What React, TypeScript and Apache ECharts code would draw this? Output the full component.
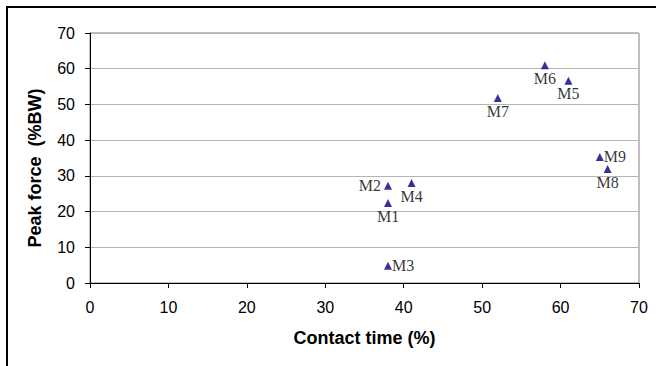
import React, { useEffect, useRef } from "react";
import * as echarts from "echarts";

const pointNames = ["M1", "M2", "M3", "M4", "M5", "M6", "M7", "M8", "M9"];
const contactTime = [38, 38, 38, 41, 61, 58, 52, 66, 65];
const peakForce = [22.4, 27.2, 4.8, 28.0, 56.6, 61.0, 51.8, 31.9, 35.3];
const xTicks = [0, 10, 20, 30, 40, 50, 60, 70];
const yTicks = [0, 10, 20, 30, 40, 50, 60, 70];

const labelPlacement: Record<string, { position: string; distance: number }> = {
  M1: { position: "bottom", distance: 1 },
  M2: { position: "left", distance: 3 },
  M3: { position: "right", distance: 0 },
  M4: { position: "bottom", distance: 1 },
  M5: { position: "bottom", distance: 1 },
  M6: { position: "bottom", distance: 1 },
  M7: { position: "bottom", distance: 1 },
  M8: { position: "bottom", distance: 1 },
  M9: { position: "right", distance: 0 },
};

export default function App() {
  const ref = useRef<HTMLDivElement>(null);

  useEffect(() => {
    if (!ref.current) return;
    const chart = echarts.init(ref.current, undefined, { renderer: "svg" });
    const data = pointNames.map((n, i) => ({
      name: n,
      value: [contactTime[i], peakForce[i]],
      label: {
        show: true,
        formatter: n,
        position: labelPlacement[n].position,
        distance: labelPlacement[n].distance,
      },
    }));
    chart.setOption({
      animation: false,
      backgroundColor: "#ffffff",
      grid: {
        left: 90,
        right: 17,
        top: 33,
        bottom: 83,
        show: true,
        borderColor: "#808080",
        borderWidth: 1,
        backgroundColor: "transparent",
      },
      graphic: [
        {
          type: "polyline",
          shape: { points: [[7, 370], [7, 7], [660, 7]] },
          style: { stroke: "#000000", lineWidth: 2, fill: null },
          silent: true,
        },
      ],
      xAxis: {
        type: "value",
        min: xTicks[0],
        max: xTicks[xTicks.length - 1],
        interval: 10,
        name: "Contact time (%)",
        nameLocation: "middle",
        nameGap: 46,
        nameTextStyle: {
          fontFamily: "Liberation Sans, Arial, sans-serif",
          fontWeight: "bold",
          fontSize: 18,
          color: "#000000",
        },
        axisLine: { show: true, onZero: false, lineStyle: { color: "#000000", width: 1 } },
        axisTick: { show: true, inside: false, length: 5, lineStyle: { color: "#000000" } },
        axisLabel: {
          margin: 16,
          fontFamily: "Liberation Sans, Arial, sans-serif",
          fontSize: 16,
          color: "#000000",
        },
        splitLine: { show: false },
      },
      yAxis: {
        type: "value",
        min: yTicks[0],
        max: yTicks[yTicks.length - 1],
        interval: 10,
        name: "Peak force  (%BW)",
        nameLocation: "middle",
        nameGap: 46,
        nameTextStyle: {
          fontFamily: "Liberation Sans, Arial, sans-serif",
          fontWeight: "bold",
          fontSize: 18,
          color: "#000000",
          padding: [0, 20, 0, 0],
        },
        axisLine: { show: true, onZero: false, lineStyle: { color: "#000000", width: 1 } },
        axisTick: { show: true, inside: false, length: 5, lineStyle: { color: "#000000" } },
        axisLabel: {
          margin: 15,
          fontFamily: "Liberation Sans, Arial, sans-serif",
          fontSize: 16,
          color: "#000000",
        },
        splitLine: { show: true, lineStyle: { color: "#b4b4b4", width: 1 } },
      },
      series: [
        {
          type: "scatter",
          symbol: "triangle",
          symbolSize: 8,
          itemStyle: { color: "#000080" },
          label: {
            show: true,
            fontFamily: "Liberation Serif, Times New Roman, serif",
            fontSize: 16,
            color: "#000000",
          },
          data,
        },
      ],
    });
    return () => chart.dispose();
  }, []);

  return (
    <div
      ref={ref}
      style={{ position: "fixed", left: 0, top: 0, width: 656, height: 366, background: "#ffffff" }}
    />
  );
}
